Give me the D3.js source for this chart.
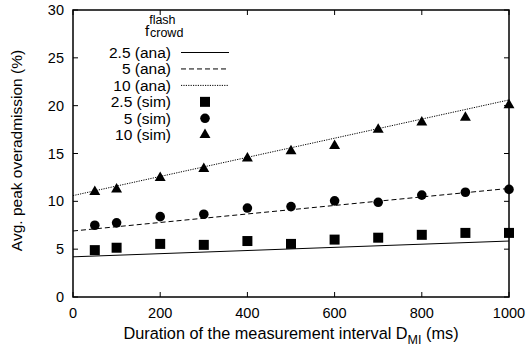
<!DOCTYPE html>
<html>
<head>
<meta charset="utf-8">
<script src="https://cdn.jsdelivr.net/npm/d3@7"></script>
<style>
  html, body { margin: 0; padding: 0; background: #fff; }
  svg { display: block; font-family: "Liberation Sans", Arial, Helvetica, sans-serif; }
</style>
</head>
<body>
<svg id="chart" width="528" height="351"></svg>
<script>
// Measurement interval durations (ms) of the simulation runs
const durations = [50, 100, 200, 300, 400, 500, 600, 700, 800, 900, 1000];

// Simulated peak overadmission (%) per flash-crowd factor
const sim25 = [4.9, 5.15, 5.55, 5.45, 5.85, 5.55, 6.0, 6.2, 6.5, 6.7, 6.7];
const sim5  = [7.5, 7.75, 8.4, 8.65, 9.3, 9.45, 10.05, 9.9, 10.65, 10.95, 11.25];
const sim10 = [11.0, 11.25, 12.45, 13.4, 14.5, 15.25, 15.8, 17.5, 18.25, 18.75, 20.05];

// Analytical curves: [duration, value] endpoints
const anaX   = [0, 1000];
const ana25  = [4.2, 5.85];
const ana5   = [6.9, 11.35];
const ana10  = [10.6, 20.6];

const xTicks = [0, 200, 400, 600, 800, 1000];
const yTicks = [0, 5, 10, 15, 20, 25, 30];

const svg = d3.select("#chart");
const m = { left: 73, right: 509, top: 10, bottom: 297 };

const x = d3.scaleLinear().domain([0, 1000]).range([m.left, m.right]);
const y = d3.scaleLinear().domain([0, 30]).range([m.bottom, m.top]);

// Tick marks on all four sides, pointing inward
const tickLen = 5;
const axisG = svg.append("g").attr("stroke", "#000").attr("stroke-width", 1);
xTicks.forEach(t => {
  axisG.append("line").attr("x1", x(t)).attr("x2", x(t)).attr("y1", m.bottom).attr("y2", m.bottom - tickLen);
  axisG.append("line").attr("x1", x(t)).attr("x2", x(t)).attr("y1", m.top).attr("y2", m.top + tickLen);
});
yTicks.forEach(t => {
  axisG.append("line").attr("x1", m.left).attr("x2", m.left + tickLen).attr("y1", y(t)).attr("y2", y(t));
  axisG.append("line").attr("x1", m.right).attr("x2", m.right - tickLen).attr("y1", y(t)).attr("y2", y(t));
});

// Tick labels
svg.append("g").selectAll("text").data(xTicks).join("text")
  .attr("x", d => x(d)).attr("y", 318)
  .attr("text-anchor", "middle").attr("font-size", 14.5).text(d => d);
svg.append("g").selectAll("text").data(yTicks).join("text")
  .attr("x", 64).attr("y", d => y(d) + 5)
  .attr("text-anchor", "end").attr("font-size", 14.5).text(d => d);

// Axis titles
const xt = svg.append("text").attr("x", 291).attr("y", 339)
  .attr("text-anchor", "middle").attr("font-size", 16.3);
xt.append("tspan").text("Duration of the measurement interval D");
xt.append("tspan").attr("font-size", 12.5).attr("dy", 5).text("MI");
xt.append("tspan").attr("dy", -5).text(" (ms)");

svg.append("text")
  .attr("transform", `translate(22,${(m.top + m.bottom) / 2 - 3}) rotate(-90)`)
  .attr("text-anchor", "middle").attr("font-size", 15.5)
  .text("Avg. peak overadmission (%)");

// Analytical lines
const styles = [
  { data: ana25, dash: null },
  { data: ana5, dash: "5,3" },
  { data: ana10, dash: "1.2,1.2" }
];
const line = d3.line().x(d => x(d[0])).y(d => y(d[1]));
styles.forEach(s => {
  svg.append("path")
    .attr("d", line(anaX.map((v, i) => [v, s.data[i]])))
    .attr("fill", "none").attr("stroke", "#000").attr("stroke-width", 1)
    .attr("stroke-dasharray", s.dash);
});

// Simulation markers
const sq = d3.symbol().type(d3.symbolSquare).size(100);
const ci = d3.symbol().type(d3.symbolCircle).size(72);
const tr = d3.symbol().type(d3.symbolTriangle).size(52);
const markers = [
  { data: sim25, sym: sq },
  { data: sim5, sym: ci },
  { data: sim10, sym: tr }
];
markers.forEach(mk => {
  svg.append("g").selectAll("path").data(durations).join("path")
    .attr("transform", (d, i) => `translate(${x(d)},${y(mk.data[i])})`)
    .attr("d", mk.sym()).attr("fill", "#000");
});

// Frame
svg.append("rect")
  .attr("x", m.left).attr("y", m.top)
  .attr("width", m.right - m.left).attr("height", m.bottom - m.top)
  .attr("fill", "none").attr("stroke", "#000").attr("stroke-width", 1.5);

// Legend
const lg = svg.append("g");
const title = lg.append("text").attr("x", 145).attr("y", 36).attr("font-size", 15);
title.append("tspan").text("f");
title.append("tspan").attr("font-size", 12.5).attr("dy", -12).text("flash");
title.append("tspan").attr("font-size", 12.5).attr("x", 150).attr("dy", 13).text("crowd");

const legendLabels = ["2.5 (ana)", "5 (ana)", "10 (ana)", "2.5 (sim)", "5 (sim)", "10 (sim)"];
const rowY = i => 52.5 + i * 16.45;
legendLabels.forEach((lab, i) => {
  lg.append("text").attr("x", 171).attr("y", rowY(i) + 5.5)
    .attr("text-anchor", "end").attr("font-size", 15.5).text(lab);
});
styles.forEach((s, i) => {
  lg.append("line").attr("x1", 181).attr("x2", 229)
    .attr("y1", rowY(i)).attr("y2", rowY(i))
    .attr("stroke", "#000").attr("stroke-width", 1).attr("stroke-dasharray", s.dash);
});
markers.forEach((mk, i) => {
  lg.append("path").attr("transform", `translate(205,${rowY(i + 3)})`)
    .attr("d", mk.sym()).attr("fill", "#000");
});
</script>
</body>
</html>
